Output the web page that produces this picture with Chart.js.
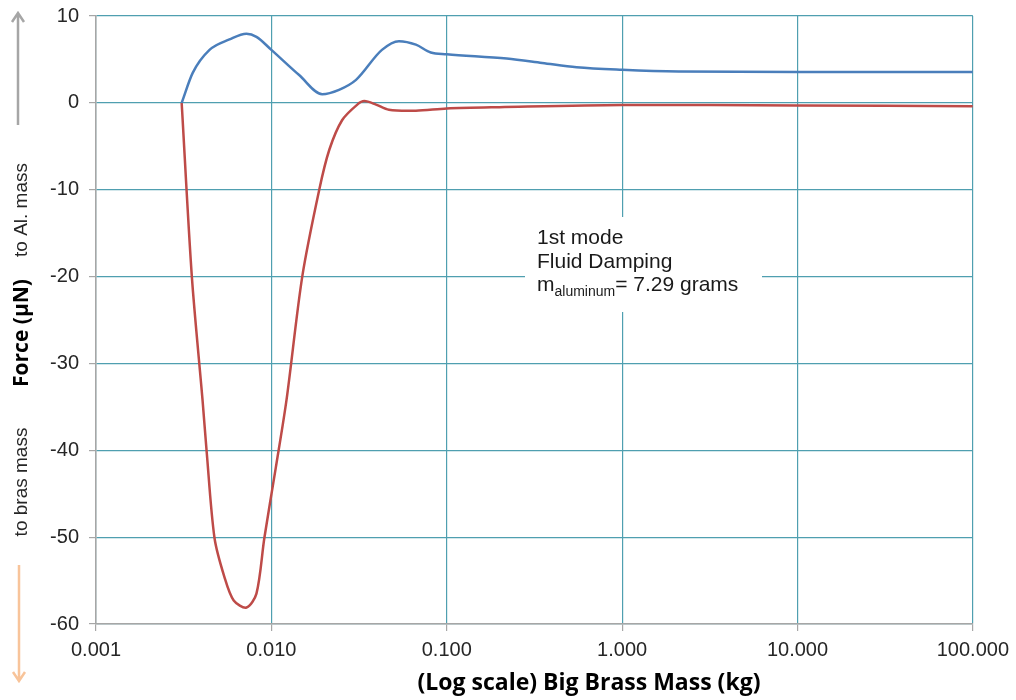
<!DOCTYPE html>
<html>
<head>
<meta charset="utf-8">
<script src="https://cdn.jsdelivr.net/npm/chart.js@4/dist/chart.umd.min.js"></script>
<style>
  body { margin: 0; background: #fff; }
  #wrap { width: 1016px; height: 700px; }
</style>
</head>
<body>
<div id="wrap"><canvas id="forceChart"></canvas></div>
<script>
// Big brass mass (kg) and force (uN)
const massBlue = [0.00308, 0.00356, 0.00444, 0.00577, 0.00721, 0.00822, 0.0100, 0.0144, 0.0195, 0.0243, 0.0304, 0.0427, 0.0534, 0.0667, 0.0811, 0.100, 0.22, 0.35, 0.55, 1.0, 2.1, 10, 100]
const forceBlue = [0, 3.45, 6.1, 7.3, 7.95, 7.6, 6.1, 3.2, 1.0, 1.5, 2.65, 6.1, 7.1, 6.7, 5.8, 5.6, 5.1, 4.6, 4.1, 3.8, 3.6, 3.55, 3.55]
const massRed = [0.00308, 0.00352, 0.00405, 0.00427, 0.00474, 0.0054, 0.0061, 0.00721, 0.00822, 0.00912, 0.0106, 0.0122, 0.0150, 0.01875, 0.0214, 0.0253, 0.0309, 0.0339, 0.0395, 0.0468, 0.0667, 0.1, 0.2, 1.0, 10, 100]
const forceRed = [0, -20, -34.2, -40, -50.1, -54.6, -57.3, -58.1, -56.5, -50.1, -42, -34.2, -20, -10, -5.4, -2.0, -0.2, 0.2, -0.2, -0.8, -0.9, -0.65, -0.5, -0.25, -0.3, -0.4]
const xTickValues = [0.001, 0.01, 0.1, 1, 10, 100]
const xTickLabels = ["0.001", "0.010", "0.100", "1.000", "10.000", "100.000"]
const noteLines = ["1st mode", "Fluid Damping"]

const gridColor = "#4f9fb0"
const axisColor = "#a6a6a6"
Chart.defaults.font.family = "'Liberation Sans', Arial, sans-serif"
Chart.defaults.color = "#262626"

function toPoints(xs, ys) {
    return xs.map((x, i) => ({ x: x, y: ys[i] }))
}

function drawArrow(ctx, x, y1, y2, color) {
    // arrow from y1 to y2, head at y2
    let dir = y2 < y1 ? 1 : -1
    ctx.strokeStyle = color
    ctx.lineWidth = 2.5
    ctx.beginPath()
    ctx.moveTo(x, y1)
    ctx.lineTo(x, y2)
    ctx.moveTo(x - 6, y2 + dir * 9)
    ctx.lineTo(x, y2)
    ctx.lineTo(x + 6, y2 + dir * 9)
    ctx.stroke()
}

function vText(ctx, text, x, y, font) {
    ctx.save()
    ctx.translate(x, y)
    ctx.rotate(-Math.PI / 2)
    ctx.font = font
    ctx.textAlign = "center"
    ctx.textBaseline = "middle"
    ctx.fillText(text, 0, 0)
    ctx.restore()
}

const extras = {
    id: "extras",
    afterDatasetsDraw(chart) {
        const ctx = chart.ctx
        ctx.save()
        // note box covers the grid
        ctx.fillStyle = "#fff"
        ctx.fillRect(525, 217, 237, 95)
        ctx.fillStyle = "#1a1a1a"
        ctx.font = "21px 'Liberation Sans', Arial"
        ctx.textBaseline = "alphabetic"
        ctx.fillText(noteLines[0], 537, 244)
        ctx.fillText(noteLines[1], 537, 268)
        ctx.fillText("m", 537, 291)
        let w = ctx.measureText("m").width
        ctx.font = "14px 'Liberation Sans', Arial"
        ctx.fillText("aluminum", 537 + w, 296)
        let w2 = ctx.measureText("aluminum").width
        ctx.font = "21px 'Liberation Sans', Arial"
        ctx.fillText("= 7.29 grams", 537 + w + w2, 291)
        ctx.restore()
    },
    afterDraw(chart) {
        const ctx = chart.ctx
        ctx.save()
        ctx.fillStyle = "#262626"
        vText(ctx, "to Al. mass", 22, 210, "19px 'Liberation Sans', Arial")
        vText(ctx, "to bras mass", 22, 482, "19px 'Liberation Sans', Arial")
        ctx.fillStyle = "#000"
        vText(ctx, "Force (μN)", 22, 333, "bold 21px 'Open Sans', Lato, sans-serif")
        drawArrow(ctx, 18, 125, 13, "#a6a6a6")
        drawArrow(ctx, 19, 565, 681, "#f8c49a")
        ctx.font = "bold 23px 'Open Sans', Lato, sans-serif"
        ctx.textAlign = "center"
        ctx.textBaseline = "middle"
        ctx.fillText("(Log scale) Big Brass Mass (kg)", 589, 683)
        ctx.restore()
    }
}

const ctx = document.getElementById("forceChart").getContext("2d")
const myChart = new Chart(ctx, {
    type: "line",
    data: {
        datasets: [
            {
                label: "to Al. mass",
                data: toPoints(massBlue, forceBlue),
                borderColor: "#4a7ebb",
                borderWidth: 2.5,
                pointRadius: 0,
                cubicInterpolationMode: "monotone"
            },
            {
                label: "to bras mass",
                data: toPoints(massRed, forceRed),
                borderColor: "#be4b48",
                borderWidth: 2.5,
                pointRadius: 0,
                tension: 0.3
            }
        ]
    },
    options: {
        responsive: true,
        maintainAspectRatio: false,
        animation: false,
        layout: { padding: { top: 16, right: 41, left: 0, bottom: 0 } },
        plugins: {
            legend: { display: false },
            tooltip: { enabled: false }
        },
        scales: {
            x: {
                type: "logarithmic",
                min: 0.001,
                max: 100,
                afterBuildTicks: (axis) => {
                    axis.ticks = xTickValues.map((v) => ({ value: v }))
                },
                afterFit: (axis) => { axis.height = 76 },
                ticks: {
                    autoSkip: false,
                    maxRotation: 0,
                    padding: 7,
                    font: { size: 20 },
                    callback: (v, i) => xTickLabels[i]
                },
                grid: { color: gridColor, tickColor: axisColor, tickLength: 7, lineWidth: 1.2 },
                border: { color: axisColor, width: 1.5 }
            },
            y: {
                min: -60,
                max: 10,
                afterFit: (axis) => {
                    axis.width = 96
                    axis.paddingTop = 0
                },
                ticks: { stepSize: 10, padding: 10, font: { size: 20 } },
                grid: { color: gridColor, tickColor: axisColor, tickLength: 7, lineWidth: 1.2 },
                border: { color: axisColor, width: 1.5 }
            }
        }
    },
    plugins: [extras]
})
</script>
</body>
</html>
